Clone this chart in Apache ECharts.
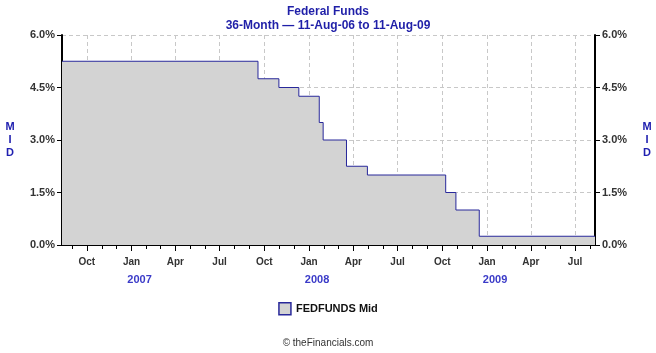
<!DOCTYPE html>
<html>
<head>
<meta charset="utf-8">
<title>Federal Funds</title>
<script src="https://cdn.jsdelivr.net/npm/echarts@6/dist/echarts.min.js"></script>
<style>
  html, body { margin: 0; padding: 0; background: #ffffff; }
  #chart { width: 656px; height: 353px; }
</style>
</head>
<body>
<div id="chart"></div>
<script>
// rate change dates and the rate held from that date on
var changeDates = ['2006-08-11', '2007-09-18', '2007-10-31', '2007-12-11', '2008-01-22', '2008-01-30',
  '2008-03-18', '2008-04-30', '2008-10-08', '2008-10-29', '2008-12-16', '2009-08-11']
var rates = [5.25, 4.75, 4.50, 4.25, 3.50, 3.00, 2.25, 2.00, 1.50, 1.00, 0.25, 0.25]

// x axis labels (quarter starts) and year labels under them
var quarterDates = ['2006-10-01', '2007-01-01', '2007-04-01', '2007-07-01', '2007-10-01', '2008-01-01',
  '2008-04-01', '2008-07-01', '2008-10-01', '2009-01-01', '2009-04-01', '2009-07-01']
var quarterLabels = ['Oct', 'Jan', 'Apr', 'Jul', 'Oct', 'Jan', 'Apr', 'Jul', 'Oct', 'Jan', 'Apr', 'Jul']
var yearLabels = ['', '2007', '', '', '', '2008', '', '', '', '2009', '', '']

var yTicks = [0, 1.5, 3, 4.5, 6]

// 解析日期(本地时间)
function ts(s) {
  var p = s.split('-')
  return new Date(+p[0], +p[1] - 1, +p[2]).getTime()
}

var startTs = ts(changeDates[0])
var endTs = ts(changeDates[changeDates.length - 1])

// monthly minor ticks
var monthTicks = []
var d = new Date(2006, 8, 1)
while (d.getTime() <= endTs) {
  monthTicks.push(d.getTime())
  d = new Date(d.getFullYear(), d.getMonth() + 1, 1)
}

var quarterTs = quarterDates.map(ts)
var seriesData = changeDates.map(function(s, i) { return [ts(s), rates[i]] })

var gridLine = { show: true, lineStyle: { color: '#c8c8c8', type: [4, 3], width: 1 } }
var axisFont = 'Liberation Sans, Arial, sans-serif'

var chart = echarts.init(document.getElementById('chart'))
var option = {
  backgroundColor: '#ffffff',
  animation: false,
  title: [
    {
      text: 'Federal Funds',
      subtext: '36-Month \u2014 11-Aug-06 to 11-Aug-09',
      left: 'center',
      top: 1,
      itemGap: 2,
      textStyle: { fontFamily: axisFont, fontSize: 12, fontWeight: 'bold', color: '#1f1fa8' },
      subtextStyle: { fontFamily: axisFont, fontSize: 12, fontWeight: 'bold', color: '#1f1fa8' }
    },
    {
      text: '\u00a9 theFinancials.com',
      left: 'center',
      top: 333,
      textStyle: { fontFamily: axisFont, fontSize: 10, fontWeight: 'normal', color: '#333333' }
    }
  ],
  legend: {
    left: 'center',
    top: 297,
    itemWidth: 12,
    itemHeight: 12,
    itemGap: 8,
    textStyle: { fontFamily: axisFont, fontSize: 11, fontWeight: 'bold', color: '#111111' },
    data: [{
      name: 'FEDFUNDS Mid',
      icon: 'rect',
      itemStyle: { color: '#d3d3d3', borderColor: '#28289a', borderWidth: 1.5 }
    }]
  },
  grid: { left: 62, right: 61, top: 35, bottom: 108, containLabel: false },
  xAxis: [
    {
      type: 'value',
      min: startTs,
      max: endTs,
      axisLine: { show: true, onZero: false, lineStyle: { color: '#000000', width: 2 } },
      axisTick: { show: true, customValues: monthTicks, length: 4, lineStyle: { color: '#000000' } },
      axisLabel: { show: false },
      splitLine: { show: false }
    },
    {
      type: 'value',
      position: 'bottom',
      min: startTs,
      max: endTs,
      axisLine: { show: false, onZero: false },
      axisTick: { show: true, customValues: quarterTs, length: 6, lineStyle: { color: '#000000' } },
      axisLabel: {
        show: true,
        customValues: quarterTs,
        margin: 9,
        fontFamily: axisFont,
        fontSize: 10,
        fontWeight: 'bold',
        color: '#333333',
        lineHeight: 17,
        formatter: function(value) {
          var i = quarterTs.indexOf(value)
          if (i < 0) return ''
          return quarterLabels[i] + '\n{y|' + (yearLabels[i] || ' ') + '}'
        },
        rich: {
          y: { fontFamily: axisFont, fontSize: 11, fontWeight: 'bold', color: '#3b3bc8', lineHeight: 18, padding: [0, 0, 0, 16] }
        }
      },
      splitLine: gridLine
    }
  ],
  yAxis: [
    {
      type: 'value',
      position: 'left',
      min: yTicks[0],
      max: yTicks[yTicks.length - 1],
      interval: 1.5,
      name: 'M\nI\nD',
      nameLocation: 'middle',
      nameRotate: 0,
      nameGap: 52,
      nameTextStyle: { fontFamily: axisFont, fontSize: 11, fontWeight: 'bold', color: '#2020b0', lineHeight: 13, align: 'center' },
      axisLine: { show: true, lineStyle: { color: '#000000', width: 2 } },
      axisTick: { show: true, length: 5, lineStyle: { color: '#000000' } },
      axisLabel: {
        margin: 7,
        fontFamily: axisFont,
        fontSize: 11,
        fontWeight: 'bold',
        color: '#333333',
        formatter: function(v) { return v.toFixed(1) + '%' }
      },
      splitLine: gridLine
    },
    {
      type: 'value',
      position: 'right',
      min: yTicks[0],
      max: yTicks[yTicks.length - 1],
      interval: 1.5,
      name: 'M\nI\nD',
      nameLocation: 'middle',
      nameRotate: 0,
      nameGap: 52,
      nameTextStyle: { fontFamily: axisFont, fontSize: 11, fontWeight: 'bold', color: '#2020b0', lineHeight: 13, align: 'center' },
      axisLine: { show: true, lineStyle: { color: '#000000', width: 2 } },
      axisTick: { show: true, length: 5, lineStyle: { color: '#000000' } },
      axisLabel: {
        margin: 7,
        fontFamily: axisFont,
        fontSize: 11,
        fontWeight: 'bold',
        color: '#333333',
        formatter: function(v) { return v.toFixed(1) + '%' }
      },
      splitLine: { show: false }
    }
  ],
  series: [
    {
      name: 'FEDFUNDS Mid',
      type: 'line',
      step: 'end',
      xAxisIndex: 0,
      yAxisIndex: 0,
      showSymbol: false,
      symbol: 'none',
      lineStyle: { color: '#28289a', width: 1 },
      itemStyle: { color: '#d3d3d3', borderColor: '#28289a' },
      areaStyle: { color: '#d3d3d3', opacity: 1 },
      data: seriesData,
      z: 1
    }
  ]
}
chart.setOption(option)
</script>
</body>
</html>
